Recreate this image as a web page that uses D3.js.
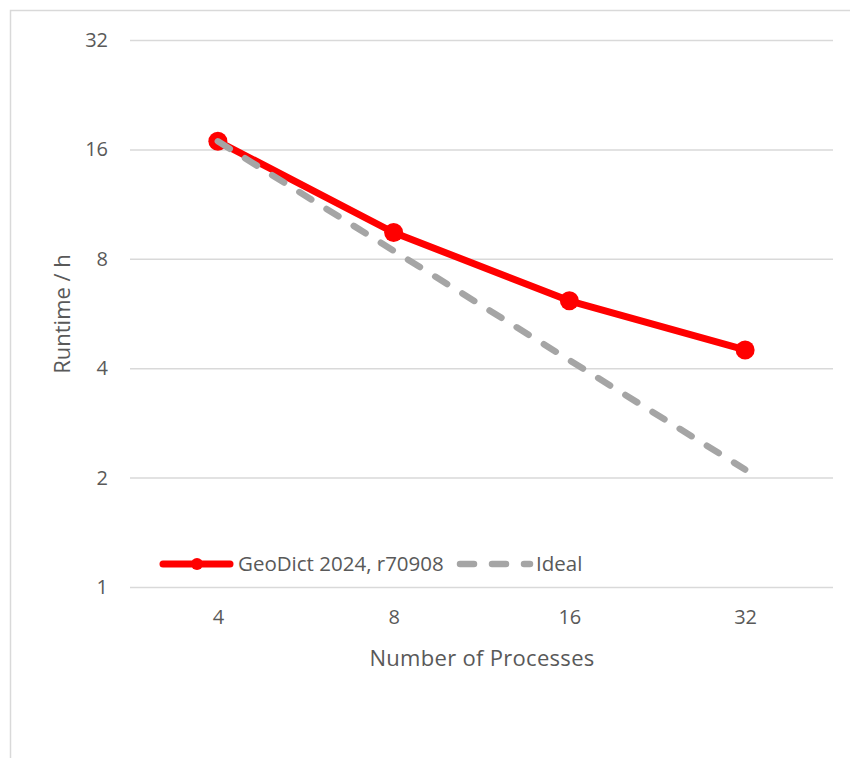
<!DOCTYPE html>
<html><head><meta charset="utf-8">
<script src="https://cdn.jsdelivr.net/npm/d3@7"></script>
<style>body{margin:0;background:#fff}svg{display:block}text{font-family:"Open Sans",sans-serif;fill:#595959}</style>
</head><body>
<script>
const categories = ["4","8","16","32"];
const geodict = [16.84, 9.45, 6.13, 4.49];
const ideal = [16.84, 8.42, 4.21, 2.105];
const yTicks = [1,2,4,8,16,32];
const seriesNames = ["GeoDict 2024, r70908","Ideal"];

const W=850,H=758;
const svg=d3.select("body").append("svg").attr("width",W).attr("height",H);
svg.append("rect").attr("x",10.5).attr("y",10.5).attr("width",W).attr("height",H).attr("fill","#fff").attr("stroke","#d9d9d9").attr("stroke-width",1.5);

const m={l:130,r:833,t:40,b:587};
const x=d3.scalePoint().domain(categories).range([m.l,m.r]).padding(0.5);
const y=d3.scaleLog().base(2).domain([1,32]).range([m.b,m.t]);

const gy=svg.append("g").attr("transform",`translate(${m.l},0)`)
  .call(d3.axisLeft(y).tickValues(yTicks).tickFormat(d3.format("d")).tickSize(-(m.r-m.l)).tickPadding(22));
gy.select(".domain").remove();
gy.selectAll(".tick line").attr("stroke","#d9d9d9").attr("stroke-width",1.5);
gy.selectAll(".tick text").attr("font-size",20).style("fill","#595959");

const gx=svg.append("g").attr("transform",`translate(0,${m.b})`)
  .call(d3.axisBottom(x).tickSize(0).tickPadding(23));
gx.select(".domain").remove();
gx.selectAll(".tick text").attr("font-size",20).style("fill","#595959");

const line=d3.line().x((d,i)=>x(categories[i])).y(d=>y(d));
svg.append("path").datum(geodict).attr("d",line).attr("fill","none").attr("stroke","#ff0000").attr("stroke-width",7).attr("stroke-linejoin","round").attr("stroke-linecap","round");
svg.selectAll("circle.g").data(geodict).enter().append("circle").attr("class","g")
  .attr("cx",(d,i)=>x(categories[i])).attr("cy",d=>y(d)).attr("r",9.5).attr("fill","#ff0000");
svg.append("path").datum(ideal).attr("d",line).attr("fill","none").attr("stroke","#a5a5a5").attr("stroke-width",6.5).attr("stroke-linecap","round").attr("stroke-dasharray","14,18");

svg.append("text").attr("transform","translate(70,314) rotate(-90)").attr("text-anchor","middle").attr("font-size",22).text("Runtime / h");
svg.append("text").attr("x",482).attr("y",666).attr("text-anchor","middle").attr("font-size",22).attr("letter-spacing",0.3).text("Number of Processes");

// legend
const ly=564;
svg.append("line").attr("x1",163).attr("x2",230).attr("y1",ly).attr("y2",ly).attr("stroke","#ff0000").attr("stroke-width",7).attr("stroke-linecap","round");
svg.append("circle").attr("cx",197).attr("cy",ly).attr("r",6).attr("fill","#ff0000");
svg.append("text").attr("x",238).attr("y",ly+7).attr("font-size",20.5).text(seriesNames[0]);
svg.append("line").attr("x1",460).attr("x2",530).attr("y1",ly).attr("y2",ly).attr("stroke","#a5a5a5").attr("stroke-width",6.5).attr("stroke-linecap","round").attr("stroke-dasharray","14,18");
svg.append("text").attr("x",536).attr("y",ly+7).attr("font-size",20.5).text(seriesNames[1]);
</script>
</body></html>
